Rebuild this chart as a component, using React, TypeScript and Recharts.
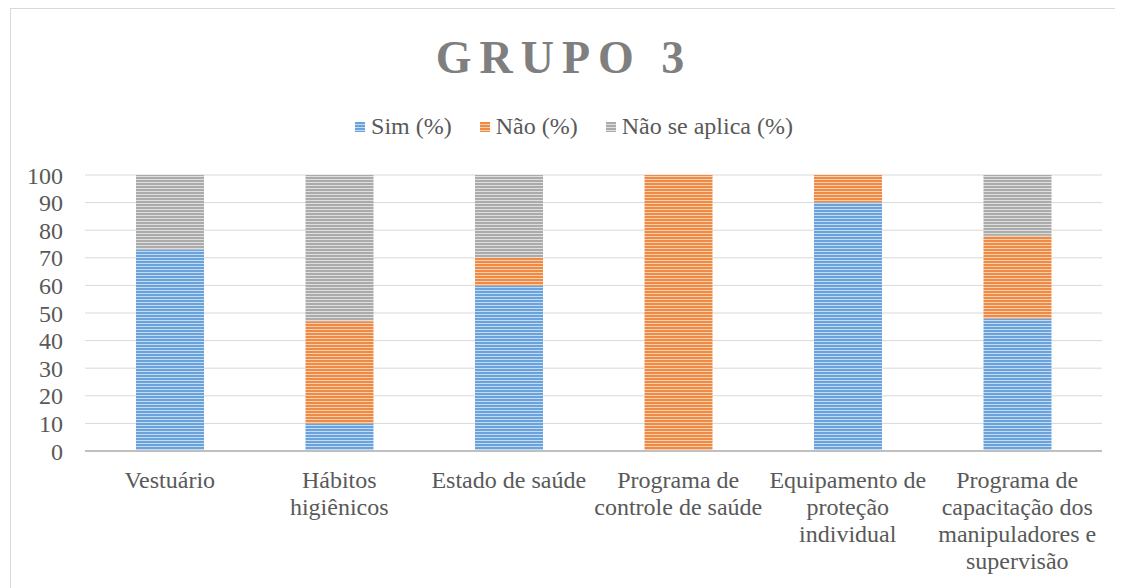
import React from 'react';
import { BarChart, Bar, XAxis, YAxis, CartesianGrid } from 'recharts';

// category labels, already split the way the original wraps them
const CATEGORY_LINES: string[][] = [
  ['Vestuário'],
  ['Hábitos', 'higiênicos'],
  ['Estado de saúde'],
  ['Programa de', 'controle de saúde'],
  ['Equipamento de', 'proteção', 'individual'],
  ['Programa de', 'capacitação dos', 'manipuladores e', 'supervisão'],
];

const SIM = [73, 10, 60, 0, 90, 48];
const NAO = [0, 37, 10, 100, 10, 30];
const NAO_SE_APLICA = [27, 53, 30, 0, 0, 22];

const Y_TICKS = [0, 10, 20, 30, 40, 50, 60, 70, 80, 90, 100];

const SERIES = [
  { key: 'sim', name: 'Sim (%)', pattern: 'stripeBlue' },
  { key: 'nao', name: 'Não (%)', pattern: 'stripeOrange' },
  { key: 'na', name: 'Não se aplica (%)', pattern: 'stripeGray' },
];

const FONT = 'Liberation Serif';
const TEXT_COLOR = '#595959';
const FS = 24;

const chartData = CATEGORY_LINES.map((lines, i) => ({
  name: lines.join(' '),
  sim: SIM[i],
  nao: NAO[i],
  na: NAO_SE_APLICA[i],
}));

const CategoryTick = ({ x, y, index }: any) => {
  const lines = CATEGORY_LINES[index] || [];
  return (
    <text
      x={x}
      y={y}
      textAnchor="middle"
      fill={TEXT_COLOR}
      style={{ fontFamily: FONT, fontSize: FS }}
    >
      {lines.map((l, i) => (
        <tspan key={i} x={x} dy={i === 0 ? 29 : 27}>{l}</tspan>
      ))}
    </text>
  );
};

const StripeDefs = () => (
  <defs>
    <pattern id="stripeBlue" patternUnits="userSpaceOnUse" width={4} height={3}>
      <rect width={4} height={3} fill="#c4dbf2" />
      <rect width={4} height={2} fill="#6aa3dc" />
    </pattern>
    <pattern id="stripeOrange" patternUnits="userSpaceOnUse" width={4} height={3}>
      <rect width={4} height={3} fill="#f9cfb2" />
      <rect width={4} height={2} fill="#ef8a45" />
    </pattern>
    <pattern id="stripeGray" patternUnits="userSpaceOnUse" width={4} height={3}>
      <rect width={4} height={3} fill="#dedede" />
      <rect width={4} height={2} fill="#ababab" />
    </pattern>
  </defs>
);

export default function App() {
  return (
    <div
      style={{
        position: 'relative',
        marginLeft: 2,
        width: 1120,
        height: 590,
        border: '1px solid #d9d9d9',
        background: '#fff',
        fontFamily: FONT,
      }}
    >
      <div
        style={{
          position: 'absolute',
          top: 22,
          left: 0,
          width: 1106,
          textAlign: 'center',
          fontFamily: FONT,
          fontSize: 46,
          fontWeight: 'bold',
          letterSpacing: 8,
          color: '#7f7f7f',
        }}
      >
        GRUPO 3
      </div>
      <div
        style={{
          position: 'absolute',
          top: 104,
          left: 0,
          width: 1126,
          display: 'flex',
          justifyContent: 'center',
          fontFamily: FONT,
          fontSize: FS,
          color: TEXT_COLOR,
        }}
      >
        {SERIES.map((s, i) => (
          <div key={s.key} style={{ display: 'flex', alignItems: 'center', marginLeft: i === 0 ? 0 : 28 }}>
            <svg width={10} height={10} style={{ marginRight: 6 }}>
              <rect width={10} height={10} fill={`url(#${s.pattern})`} />
            </svg>
            <span style={{ fontFamily: FONT }}>{s.name}</span>
          </div>
        ))}
      </div>
      <BarChart
        width={1112}
        height={580}
        data={chartData}
        margin={{ top: 166, right: 21, left: 14, bottom: 18 }}
        barSize={68}
      >
        <StripeDefs />
        <CartesianGrid vertical={false} stroke="#d9d9d9" strokeWidth={1} />
        <XAxis
          dataKey="name"
          interval={0}
          height={120}
          tick={<CategoryTick />}
          tickLine={false}
          axisLine={{ stroke: '#bfbfbf', strokeWidth: 2 }}
        />
        <YAxis
          domain={[0, 100]}
          ticks={Y_TICKS}
          interval={0}
          width={60}
          axisLine={false}
          tickLine={false}
          tickSize={0}
          tickMargin={22}
          tick={{ fill: TEXT_COLOR, fontSize: FS, fontFamily: FONT }}
        />
        {SERIES.map((s) => (
          <Bar
            key={s.key}
            dataKey={s.key}
            name={s.name}
            stackId="a"
            fill={`url(#${s.pattern})`}
            isAnimationActive={false}
          />
        ))}
      </BarChart>
    </div>
  );
}
